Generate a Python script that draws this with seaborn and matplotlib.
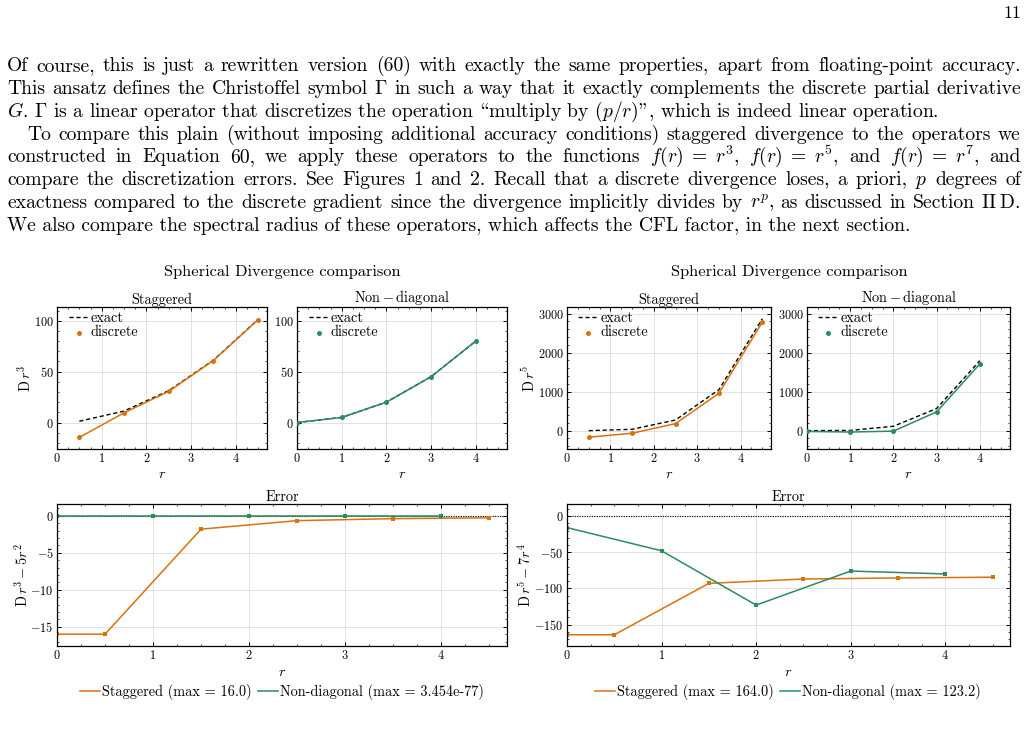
import numpy as np
import matplotlib.pyplot as plt
from matplotlib.ticker import AutoMinorLocator, MultipleLocator
from matplotlib.lines import Line2D
import seaborn as sns

W, H = 1029, 732

# ---- data ----
r_stag = [0.5, 1.5, 2.5, 3.5, 4.5]
r_nd = [0, 1, 2, 3, 4]
r_err_stag = [0, 0.5, 1.5, 2.5, 3.5, 4.5]

# f(r) = r^3  ->  D r^3 = 5 r^2
exact3_stag = [1.25, 11.25, 31.25, 61.25, 101.25]
disc3_stag = [-14.6, 9.5, 30.6, 60.9, 101.0]
exact3_nd = [0, 5, 20, 45, 80]
disc3_nd = [0, 5, 20, 45, 80]
err3_stag = [-16.0, -16.0, -1.8, -0.65, -0.38, -0.27]
err3_nd = [0, 0, 0, 0, 0]

# f(r) = r^5  ->  D r^5 = 7 r^4
exact5_stag = [0.44, 35.4, 273.4, 1050.4, 2870.4]
disc5_stag = [-168, -66, 180, 958, 2782]
exact5_nd = [0, 7, 112, 567, 1792]
disc5_nd = [-20, -35, -12, 480, 1710]
err5_stag = [-164, -164, -93, -87, -85.5, -84.5]
err5_nd = [-16, -48, -123, -76, -80]

ORANGE = "#D8720F"
GREEN = "#2B8C5C"

plt.rcParams['font.family'] = ['cmr10', 'DejaVu Serif']
plt.rcParams['mathtext.fontset'] = 'cm'
plt.rcParams['axes.formatter.use_mathtext'] = True
plt.rcParams['axes.unicode_minus'] = True

FS = 10.3     # chart text
TICK = 8.8

fig = plt.figure(figsize=(W / 100, H / 100), dpi=100)
renderer = fig.canvas.get_renderer()


def add_ax(l, t, r, b):
    return fig.add_axes([l / W, 1 - b / H, (r - l) / W, (b - t) / H])


def style(ax, xlim, ylim, ystep):
    ax.set_xlim(*xlim)
    ax.set_ylim(*ylim)
    ax.xaxis.set_major_locator(MultipleLocator(1))
    ax.yaxis.set_major_locator(MultipleLocator(ystep))
    ax.xaxis.set_minor_locator(AutoMinorLocator(4))
    ax.yaxis.set_minor_locator(AutoMinorLocator(5))
    ax.tick_params(which='both', direction='in', top=True, right=True,
                   labelsize=TICK, pad=2.5)
    ax.tick_params(which='major', length=3, width=0.7)
    ax.tick_params(which='minor', length=1.6, width=0.5)
    ax.grid(True, which='major', color='#dddddd', lw=0.6)
    ax.set_axisbelow(True)
    for s in ax.spines.values():
        s.set_linewidth(0.9)
    ax.set_xlabel("")
    ax.set_ylabel("")


def top_panel(ax, x, exact, disc, color, title, ylim, ystep, ylabel=None):
    sns.lineplot(x=x, y=exact, ax=ax, color='black', ls=(0, (3, 2)), lw=1.0,
                 label='exact', sort=False)
    sns.lineplot(x=x, y=disc, ax=ax, color=color, lw=1.1, sort=False)
    sns.scatterplot(x=x, y=disc, ax=ax, color=color, s=13, linewidth=0,
                    label='discrete', zorder=3)
    style(ax, (0, 4.7), ylim, ystep)
    ax.set_title(title, fontsize=FS, pad=2.5)
    ax.set_xlabel("$r$", fontsize=FS, labelpad=1)
    if ylabel:
        ax.set_ylabel(ylabel, fontsize=FS, labelpad=0)
    ax.legend(loc='upper left', bbox_to_anchor=(0.035, 1.0), frameon=False,
              fontsize=FS, handlelength=1.4, handletextpad=0.15,
              labelspacing=0.05, borderaxespad=0.1, borderpad=0.2)


def err_panel(ax, err_s, err_n, ylim, ystep, ylabel, labels, cx):
    ax.axhline(0, color='black', ls=(0, (1, 1.2)), lw=0.8, zorder=1)
    sns.lineplot(x=r_err_stag, y=err_s, ax=ax, color=ORANGE, lw=1.1,
                 marker='s', markersize=2.3, markeredgewidth=0, sort=False)
    sns.lineplot(x=r_nd, y=err_n, ax=ax, color=GREEN, lw=1.1,
                 marker='s', markersize=2.3, markeredgewidth=0, sort=False)
    style(ax, (0, 4.685), ylim, ystep)
    ax.set_title("Error", fontsize=FS, pad=2.5)
    ax.set_xlabel("$r$", fontsize=FS, labelpad=2)
    ax.set_ylabel(ylabel, fontsize=FS, labelpad=0)
    handles = [Line2D([], [], color=ORANGE, lw=1.1),
               Line2D([], [], color=GREEN, lw=1.1)]
    ax.legend(handles, labels, loc='center',
              bbox_to_anchor=(cx / W, 1 - 692 / H),
              bbox_transform=fig.transFigure, ncol=2, frameon=False,
              fontsize=FS, handlelength=1.4, handletextpad=0.15,
              columnspacing=0.4)


# ---- left figure: r^3 ----
fig.text(282 / W, 1 - 272 / H, "Spherical Divergence comparison",
         ha='center', va='center', fontsize=11.8)
ax = add_ax(57, 307, 267, 449)
top_panel(ax, r_stag, exact3_stag, disc3_stag, ORANGE, "Staggered",
          (-26, 113.5), 50, r"$\mathrm{D}\,r^3$")
ax = add_ax(297, 307, 507, 449)
top_panel(ax, r_nd, exact3_nd, disc3_nd, GREEN, r"$\mathrm{Non-diagonal}$",
          (-26, 113.5), 50)
ax = add_ax(57, 504, 507, 646)
err_panel(ax, err3_stag, err3_nd, (-17.6, 1.6), 5,
          r"$\mathrm{D}\,r^3-5r^2$",
          ["Staggered (max = 16.0)", "Non-diagonal (max = 3.454e-77)"], 282)

# ---- right figure: r^5 ----
fig.text(789 / W, 1 - 272 / H, "Spherical Divergence comparison",
         ha='center', va='center', fontsize=11.8)
ax = add_ax(567, 307, 771, 449)
top_panel(ax, r_stag, exact5_stag, disc5_stag, ORANGE, "Staggered",
          (-470, 3170), 1000, r"$\mathrm{D}\,r^5$")
ax = add_ax(807, 307, 1010, 449)
top_panel(ax, r_nd, exact5_nd, disc5_nd, GREEN, r"$\mathrm{Non-diagonal}$",
          (-470, 3170), 1000)
ax = add_ax(567, 504, 1010, 646)
err_panel(ax, err5_stag, err5_nd, (-179.5, 16.6), 50,
          r"$\mathrm{D}\,r^5-7r^4$",
          ["Staggered (max = 164.0)", "Non-diagonal (max = 123.2)"], 788)

# ---- page text ----
BODY = 14.1
# in cmr10 (OT1 layout) '\' is the opening and '"' the closing double quote
lines = [
    ("Of course, this is just a rewritten version (60) with exactly the same "
     "properties, apart from floating-point accuracy.", 7, True),
    (r"This ansatz defines the Christoffel symbol $\Gamma$ in such a way that "
     "it exactly complements the discrete partial derivative", 7, True),
    (r"$G$. $\Gamma$ is a linear operator that discretizes the operation "
     "\\multiply by $(p/r)$\", which is indeed linear operation.", 7, False),
    ("To compare this plain (without imposing additional accuracy conditions) "
     "staggered divergence to the operators we", 27, True),
    ("constructed in Equation 60, we apply these operators to the functions "
     r"$f(r)\;=\;r^3$, $f(r)\;=\;r^5$, and $f(r)\;=\;r^7$, and", 7, True),
    ("compare the discretization errors. See Figures 1 and 2. Recall that a "
     "discrete divergence loses, a priori, $p$ degrees of", 7, True),
    ("exactness compared to the discrete gradient since the divergence "
     "implicitly divides by $r^p$, as discussed in Section II$\\;$D.", 7, True),
    ("We also compare the spectral radius of these operators, which affects "
     "the CFL factor, in the next section.", 7, False),
]
x_right = 1021
for i, (txt, x0, just) in enumerate(lines):
    yb = 71 + i * 22.85
    if not just:
        fig.text(x0 / W, 1 - yb / H, txt, fontsize=BODY, va='baseline')
        continue
    words = txt.split(" ")
    objs = [fig.text(0, 1 - yb / H, w, fontsize=BODY, va='baseline')
            for w in words]
    widths = [o.get_window_extent(renderer).width for o in objs]
    gap = (x_right - x0 - sum(widths)) / (len(words) - 1)
    x = x0
    for o, w in zip(objs, widths):
        o.set_x(x / W)
        x += w + gap

fig.text(1021 / W, 1 - 13 / H, "11", ha='right', va='center', fontsize=13)

fig.savefig("out.png", dpi=100)
